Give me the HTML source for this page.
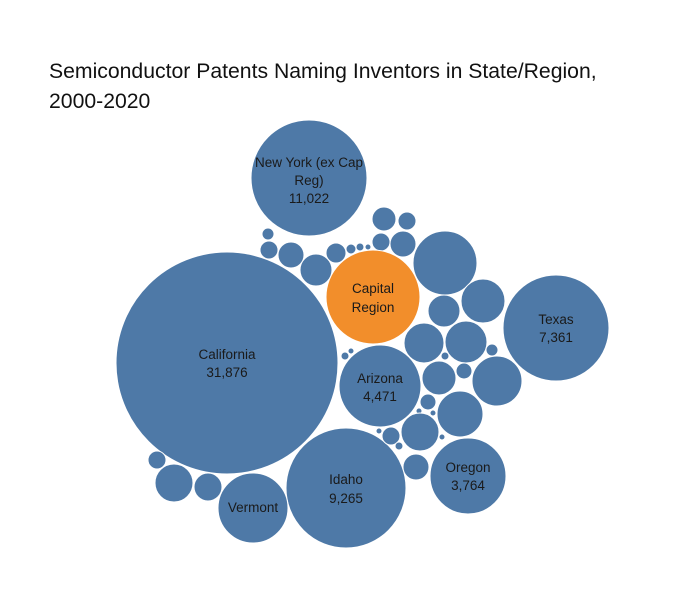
<!DOCTYPE html>
<html><head><style>
body{margin:0;background:#fff;width:685px;height:606px;overflow:hidden}
svg{display:block}
text{font-family:"Liberation Sans","DejaVu Sans",sans-serif;fill:#1a1a1a;}
</style></head><body>
<svg width="685" height="606" viewBox="0 0 685 606">
<text x="49" y="78" font-size="21.2" style="fill:#111">Semiconductor Patents Naming Inventors in State/Region,</text>
<text x="49" y="108" font-size="21.2" style="fill:#111">2000-2020</text>
<g fill="#4e79a7" stroke="#fff" stroke-width="1">
<circle cx="309" cy="178" r="58"/>
<circle cx="227" cy="363" r="111"/>
<circle cx="556" cy="328" r="53"/>
<circle cx="346" cy="488" r="60"/>
<circle cx="468" cy="476" r="38"/>
<circle cx="253" cy="508" r="35"/>
<circle cx="380" cy="386" r="41"/>
<circle cx="384" cy="219" r="12"/>
<circle cx="407" cy="221" r="9"/>
<circle cx="381" cy="242" r="9"/>
<circle cx="403" cy="244" r="13"/>
<circle cx="445" cy="263" r="32"/>
<circle cx="268" cy="234" r="6"/>
<circle cx="269" cy="250" r="9"/>
<circle cx="291" cy="255" r="13"/>
<circle cx="316" cy="270" r="16"/>
<circle cx="336" cy="253" r="10"/>
<circle cx="351" cy="249" r="5"/>
<circle cx="360" cy="247" r="4"/>
<circle cx="368" cy="247" r="3"/>
<circle cx="483" cy="301" r="22"/>
<circle cx="444" cy="311" r="16"/>
<circle cx="424" cy="343" r="20"/>
<circle cx="466" cy="342" r="21"/>
<circle cx="492" cy="350" r="6"/>
<circle cx="445" cy="356" r="4"/>
<circle cx="439" cy="378" r="17"/>
<circle cx="464" cy="371" r="8"/>
<circle cx="497" cy="381" r="25"/>
<circle cx="460" cy="414" r="23"/>
<circle cx="428" cy="402" r="8"/>
<circle cx="419" cy="411" r="3"/>
<circle cx="433" cy="413" r="3"/>
<circle cx="420" cy="432" r="19"/>
<circle cx="391" cy="436" r="9"/>
<circle cx="379" cy="431" r="3"/>
<circle cx="399" cy="446" r="4"/>
<circle cx="442" cy="437" r="3"/>
<circle cx="345" cy="356" r="4"/>
<circle cx="351" cy="351" r="3"/>
<circle cx="416" cy="467" r="13"/>
<circle cx="174" cy="483" r="19"/>
<circle cx="208" cy="487" r="14"/>
<circle cx="157" cy="460" r="9"/>
</g>
<circle cx="373" cy="297" r="47" fill="#f28e2b" stroke="#fff"/>
<g font-size="13.5" text-anchor="middle">
<text x="309" y="167">New York (ex Cap</text>
<text x="309" y="185">Reg)</text>
<text x="309" y="203">11,022</text>
<text x="373" y="293">Capital</text>
<text x="373" y="312">Region</text>
<text x="227" y="359">California</text>
<text x="227" y="377">31,876</text>
<text x="556" y="324">Texas</text>
<text x="556" y="342">7,361</text>
<text x="380" y="383">Arizona</text>
<text x="380" y="401">4,471</text>
<text x="346" y="484">Idaho</text>
<text x="346" y="503">9,265</text>
<text x="468" y="472">Oregon</text>
<text x="468" y="490">3,764</text>
<text x="253" y="512">Vermont</text>
</g>
</svg>
</body></html>
